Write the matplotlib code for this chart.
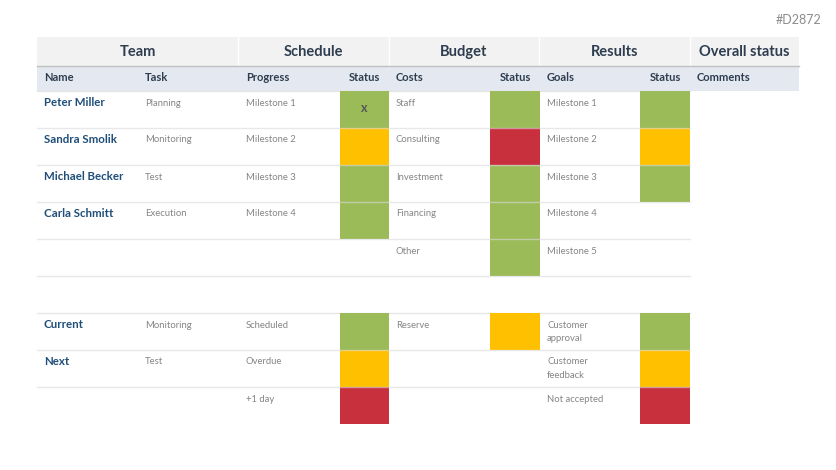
import matplotlib.pyplot as plt
from matplotlib.patches import Rectangle

plt.rcParams['font.family'] = ['Lato', 'DejaVu Sans']

# data
groups = ['Team', 'Schedule', 'Budget', 'Results', 'Overall status']
subheads = ['Name', 'Task', 'Progress', 'Status', 'Costs', 'Status', 'Goals', 'Status', 'Comments']

names = ['Peter Miller', 'Sandra Smolik', 'Michael Becker', 'Carla Schmitt', '']
tasks = ['Planning', 'Monitoring', 'Test', 'Execution', '']
progress = ['Milestone 1', 'Milestone 2', 'Milestone 3', 'Milestone 4', '']
sched_status = ['G', 'Y', 'G', 'G', '']
costs = ['Staff', 'Consulting', 'Investment', 'Financing', 'Other']
budget_status = ['G', 'R', 'G', 'G', 'G']
goals = ['Milestone 1', 'Milestone 2', 'Milestone 3', 'Milestone 4', 'Milestone 5']
result_status = ['G', 'Y', 'G', '', '']

legend_names = ['Current', 'Next', '']
legend_tasks = ['Monitoring', 'Test', '']
legend_progress = ['Scheduled', 'Overdue', '+1 day']
legend_sched = ['G', 'Y', 'R']
legend_costs = ['Reserve', '', '']
legend_budget = ['Y', '', '']
legend_goals = ['Customer\napproval', 'Customer\nfeedback', 'Not accepted']
legend_result = ['G', 'Y', 'R']

colors = {'G': '#9BBB59', 'Y': '#FFC000', 'R': '#C9303E'}

W, H = 836, 470
fig = plt.figure(figsize=(W / 100, H / 100), dpi=100)
ax = fig.add_axes([0, 0, 1, 1])
ax.set_xlim(0, W)
ax.set_ylim(H, 0)
ax.axis('off')

left, right = 37, 799
group_edges = [37, 238, 389, 539, 690, 799]
text_x = [44, 145, 246, None, 396, None, 547, None, 697]
status_cols = {3: (340, 389), 5: (490, 540), 7: (640, 690)}
dark = '#2E3D4F'
blue = '#1F4E79'
gray = '#858585'

# header band
ax.add_patch(Rectangle((left, 37), right - left, 29, color='#F2F2F2', lw=0))
for xe in group_edges[1:-1]:
    ax.plot([xe, xe], [37, 66], color='white', lw=1)
ax.plot([left, right], [66, 66], color='#C0C0C0', lw=1)
for i, g in enumerate(groups):
    ax.text((group_edges[i] + group_edges[i + 1]) / 2, 52, g, ha='center', va='center',
            fontsize=10.5, fontweight='bold', color=dark)

# sub-header band
ax.add_patch(Rectangle((left, 66.5), right - left, 24.5, color='#E4E9F1', lw=0))
for j, s in enumerate(subheads):
    if j in status_cols:
        x0, x1 = status_cols[j]
        ax.text((x0 + x1) / 2, 77.5, s, ha='center', va='center', fontsize=8,
                fontweight='bold', color=dark)
    else:
        ax.text(text_x[j], 77.5, s, ha='left', va='center', fontsize=8,
                fontweight='bold', color=dark)

ax.text(821, 20, '#D2872', ha='right', va='center', fontsize=9, color='#8C8C8C')


def draw_block(top, cols, last_line=True, rh=37):
    n = len(cols[0])
    ax.plot([left, 690], [top, top], color='#E6E6E6', lw=1)
    for r in range(n):
        y0 = top + r * rh
        if r < n - 1 or last_line:
            ax.plot([left, 690], [y0 + rh, y0 + rh], color='#DADADA', lw=1,
                    alpha=0.6, zorder=4)
        for j, vals in enumerate(cols):
            v = vals[r]
            if not v:
                continue
            if j in status_cols:
                x0, x1 = status_cols[j]
                ax.add_patch(Rectangle((x0, y0), x1 - x0, rh, color=colors[v], lw=0, zorder=3))
            elif j == 0:
                ax.text(text_x[j], y0 + 11.5, v, ha='left', va='center', fontsize=8.3,
                        fontweight='bold', color=blue)
            else:
                ax.text(text_x[j], y0 + 7.5, v, ha='left', va='top', fontsize=6.8,
                        color=gray, linespacing=1.7)


draw_block(91, [names, tasks, progress, sched_status, costs, budget_status, goals, result_status])
ax.text(364.5, 108, 'x', ha='center', va='center', fontsize=9, fontweight='bold',
        color='#555555', zorder=5)

draw_block(313, [legend_names, legend_tasks, legend_progress, legend_sched,
                 legend_costs, legend_budget, legend_goals, legend_result], last_line=False)

fig.savefig('out.png', dpi=100)
